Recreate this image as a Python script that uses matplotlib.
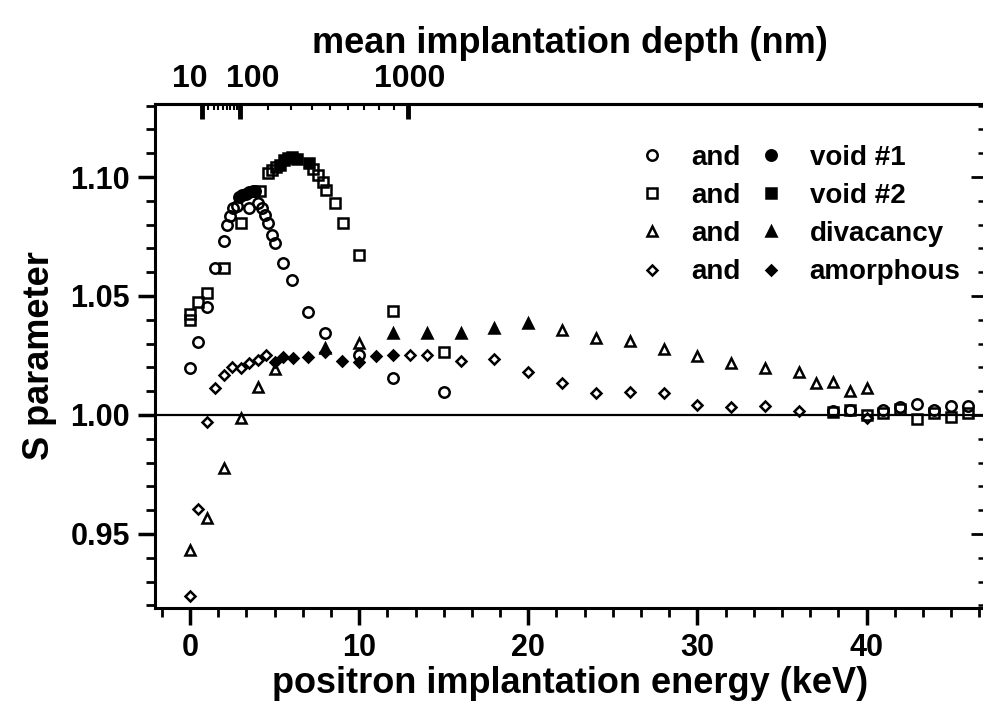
import numpy as np
import matplotlib
matplotlib.use("Agg")
import matplotlib.pyplot as plt
from matplotlib.ticker import MultipleLocator, AutoMinorLocator
from matplotlib.transforms import ScaledTranslation

plt.rcParams['font.family'] = ['Liberation Sans', 'DejaVu Sans']
plt.rcParams['font.weight'] = 'bold'

# void #1 (circles)
circ_open_E = [0, 0.5, 1.0, 1.5, 2.0, 2.2, 2.35, 2.55, 2.8, 3.5, 4.0, 4.25, 4.45, 4.6,
               4.85, 5.0, 5.5, 6.0, 7.0, 8.0, 10.0, 12.0, 15.0, 38.0, 39.0, 41.0,
               42.0, 43.0, 44.0, 45.0, 46.0]
circ_open_S = [1.0196, 1.0308, 1.0455, 1.0618, 1.0732, 1.0798, 1.0836, 1.0870, 1.0878,
               1.0870, 1.0892, 1.0870, 1.0840, 1.0808, 1.0756, 1.0723, 1.0640, 1.0567,
               1.0433, 1.0346, 1.0252, 1.0154, 1.0098, 1.0018, 1.0021, 1.0021, 1.0035,
               1.0046, 1.0021, 1.0038, 1.0038]
circ_fill_E = [2.9, 3.1, 3.3, 3.5, 3.7, 3.85]
circ_fill_S = [1.0915, 1.0925, 1.0930, 1.0935, 1.0940, 1.0940]

# void #2 (squares)
sq_open_E = [0, 0, 0.5, 1.0, 2.0, 3.0, 4.15, 4.6, 4.85, 5.1, 7.3, 7.55, 7.85, 8.05,
             8.55, 9.05, 10.0, 12.0, 15.0, 38.0, 39.0, 40.0, 41.0, 42.0, 43.0, 44.0,
             45.0, 46.0]
sq_open_S = [1.0400, 1.0424, 1.0476, 1.0511, 1.0619, 1.0808, 1.0941, 1.1015, 1.1030,
             1.1040, 1.1035, 1.1010, 1.0980, 1.0945, 1.0892, 1.0805, 1.0672, 1.0438,
             1.0263, 1.0014, 1.0020, 1.0000, 1.0007, 1.0026, 0.9984, 1.0010, 0.9992,
             1.0010]
sq_fill_E = [5.3, 5.55, 5.8, 6.05, 6.3, 7.05]
sq_fill_S = [1.1050, 1.1072, 1.1080, 1.1082, 1.1075, 1.1058]

# divacancy (triangles)
tri_open_E = [0, 1, 2, 3, 4, 5, 10, 22, 24, 26, 28, 30, 32, 34, 36, 37, 38, 39, 40]
tri_open_S = [0.9433, 0.9566, 0.9776, 0.9986, 1.0116, 1.0193, 1.0301, 1.0357, 1.0322,
              1.0312, 1.0276, 1.0248, 1.0220, 1.0196, 1.0182, 1.0136, 1.0140, 1.0102,
              1.0112]
tri_fill_E = [8, 12, 14, 16, 18, 20]
tri_fill_S = [1.0280, 1.0343, 1.0343, 1.0346, 1.0364, 1.0388]

# amorphous (diamonds)
dia_open_E = [0, 0.5, 1.0, 1.5, 2.0, 2.5, 3.0, 3.5, 4.0, 4.5, 13, 14, 16, 18, 20, 22,
              24, 26, 28, 30, 32, 34, 36, 40]
dia_open_S = [0.9240, 0.9604, 0.9969, 1.0115, 1.0168, 1.0203, 1.0199, 1.0217, 1.0231,
              1.0252, 1.0251, 1.0252, 1.0228, 1.0234, 1.0179, 1.0133, 1.0094, 1.0098,
              1.0094, 1.0042, 1.0032, 1.0038, 1.0018, 0.9986]
dia_fill_E = [5.0, 5.5, 6.1, 7.0, 8.0, 9.0, 10.0, 11.0, 12.0]
dia_fill_S = [1.0224, 1.0245, 1.0238, 1.0242, 1.0266, 1.0228, 1.0224, 1.0248, 1.0252]

legend_labels = ['void #1', 'void #2', 'divacancy', 'amorphous']

# top axis: mean implantation depth (nm) = A * E^n
depth_major = [10, 100, 1000]
depth_labels = ['10', '100', '1000']
depth_minor = [20, 30, 40, 50, 60, 70, 80, 90, 200, 300, 400, 500, 600, 700, 800, 900]
depth_A, depth_n = 17.9, 1.574
def depth_to_E(d):
    return (np.asarray(d, dtype=float) / depth_A) ** (1.0 / depth_n)

fig = plt.figure(figsize=(9.83, 7.10), dpi=100)
ax = fig.add_axes([0.1577, 0.1437, 0.8443, 0.7099])

ax.axhline(1.0, color='black', lw=1.6, zorder=1)

mew = 1.8
styles = [('o', 7.5), ('s', 6.6), ('^', 7.8), ('D', 5.6)]
opens = [(circ_open_E, circ_open_S), (sq_open_E, sq_open_S),
         (tri_open_E, tri_open_S), (dia_open_E, dia_open_S)]
fills = [(circ_fill_E, circ_fill_S), (sq_fill_E, sq_fill_S),
         (tri_fill_E, tri_fill_S), (dia_fill_E, dia_fill_S)]

open_h, fill_h = [], []
for (m, s), (xe, ys) in zip(styles, opens):
    h, = ax.plot(xe, ys, ls='none', marker=m, ms=s, mfc='none', mec='black',
                 mew=mew, zorder=3)
    open_h.append(h)
for (m, s), (xe, ys) in zip(styles, fills):
    h, = ax.plot(xe, ys, ls='none', marker=m, ms=s, mfc='black', mec='black',
                 mew=mew, zorder=4)
    fill_h.append(h)

ax.set_xlim(-2.07, 47.0)
ax.set_ylim(0.9189, 1.1307)

ax.xaxis.set_major_locator(MultipleLocator(10))
ax.xaxis.set_minor_locator(AutoMinorLocator(6))
ax.yaxis.set_major_locator(MultipleLocator(0.05))
ax.yaxis.set_minor_locator(MultipleLocator(0.01))
ax.yaxis.set_major_formatter(plt.FormatStrFormatter('%.2f'))

ax.tick_params(which='major', direction='out', length=12, width=2.5, labelsize=22, pad=6)
ax.tick_params(which='minor', direction='out', length=6.5, width=2)
ax.tick_params(axis='x', top=False)
for sp in ax.spines.values():
    sp.set_linewidth(2.2)

ax.set_xlabel('positron implantation energy (keV)', fontsize=26, fontweight='bold', labelpad=2)
ax.set_ylabel('S parameter', fontsize=26, fontweight='bold', labelpad=10)

# right inner ticks
sec_r = ax.secondary_yaxis('right')
sec_r.yaxis.set_major_locator(MultipleLocator(0.05))
sec_r.yaxis.set_minor_locator(MultipleLocator(0.01))
sec_r.tick_params(which='major', direction='in', length=10, width=2, labelright=False)
sec_r.tick_params(which='minor', direction='in', length=5, width=1.8)

# top depth axis
sec_t = ax.secondary_xaxis('top')
sec_t.set_xticks(depth_to_E(depth_major), depth_labels)
sec_t.set_xticks(depth_to_E(depth_minor), minor=True)
sec_t.tick_params(which='major', direction='in', length=11, width=3.5, labelsize=23, pad=7)
sec_t.tick_params(which='minor', direction='in', length=4, width=1.5)
sec_t.set_xlabel('mean implantation depth (nm)', fontsize=26, fontweight='bold', labelpad=8)
for sp in sec_t.spines.values():
    sp.set_linewidth(2.2)
label_shift_px = [-12, 12, 2]
for lab, dx in zip(sec_t.get_xticklabels(), label_shift_px):
    lab.set_transform(lab.get_transform() + ScaledTranslation(dx / 100, 0, fig.dpi_scale_trans))

ax.legend(open_h + fill_h, ['and'] * 4 + legend_labels, ncol=2, loc='upper left',
          bbox_to_anchor=(0.582, 0.919), frameon=False, fontsize=20,
          handlelength=1.0, handletextpad=0.9, columnspacing=0.6,
          labelspacing=0.44, borderpad=0, borderaxespad=0)

fig.savefig('out.png', dpi=100)
